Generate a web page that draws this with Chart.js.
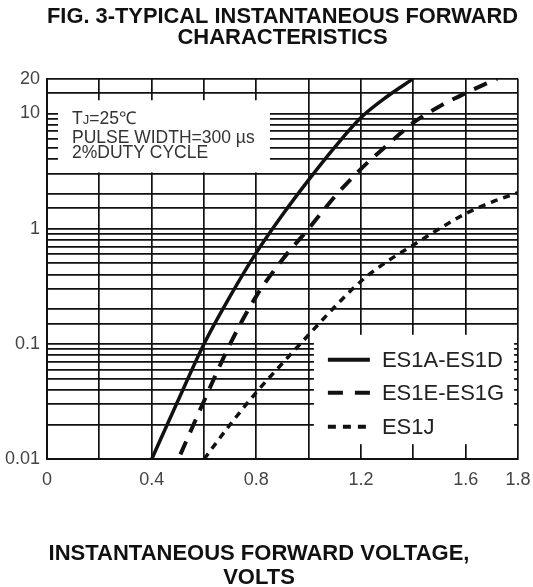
<!DOCTYPE html>
<html>
<head>
<meta charset="utf-8">
<script src="https://cdn.jsdelivr.net/npm/chart.js@4/dist/chart.umd.min.js"></script>
<style>
  body { margin: 0; background: #fff; }
  canvas { display: block; }
</style>
</head>
<body>
<canvas id="chart" width="533" height="587"></canvas>
<script>
// forward voltage (V) vs forward current (A)
let es1aVolts = [0.40, 0.50, 0.60, 0.70, 0.80, 0.90, 1.00, 1.10, 1.20, 1.30, 1.40];
let es1aAmps  = [0.01, 0.032, 0.10, 0.26, 0.62, 1.32, 2.65, 5.1, 9.2, 14, 20];

let es1eVolts = [0.51, 0.60, 0.70, 0.80, 0.90, 1.00, 1.10, 1.20, 1.30, 1.40, 1.50, 1.60, 1.72];
let es1eAmps  = [0.011, 0.032, 0.10, 0.26, 0.54, 1.0, 1.9, 3.3, 5.3, 8.3, 11.5, 15, 20];

let es1jVolts = [0.60, 0.70, 0.80, 0.90, 1.00, 1.10, 1.20, 1.30, 1.40, 1.50, 1.60, 1.70, 1.80];
let es1jAmps  = [0.01, 0.02, 0.038, 0.068, 0.12, 0.21, 0.35, 0.52, 0.72, 1.0, 1.35, 1.7, 2.05];

let seriesNames = ['ES1A-ES1D', 'ES1E-ES1G', 'ES1J'];
let xTickLabels = [0, 0.4, 0.8, 1.2, 1.6, 1.8];
let yTickLabels = [0.01, 0.1, 1, 10, 20];

let noteLines = ['PULSE WIDTH=300 \u00b5s', '2%DUTY CYCLE'];

const FONT = '"Liberation Sans", Arial, sans-serif';

function pts(xs, ys) {
    return xs.map((v, i) => ({ x: v, y: ys[i] }));
}

function near(v, list) {
    return list.some(t => Math.abs(v - t) < 1e-6 * Math.max(1, Math.abs(t)));
}

// white boxes for the conditions note and the legend, drawn over the grid
const boxes = {
    id: 'boxes',
    beforeDatasetsDraw(chart) {
        const { ctx, scales: { x, y } } = chart;
        ctx.save();

        // conditions note, top left
        let l = x.getPixelForValue(0.042), r = x.getPixelForValue(0.852);
        let t = y.getPixelForValue(13), b = y.getPixelForValue(3) - 1.2;
        ctx.fillStyle = '#fff';
        ctx.fillRect(l, t, r - l, b - t);
        ctx.fillStyle = '#333';
        ctx.textBaseline = 'alphabetic';
        ctx.textAlign = 'left';
        let tx = l + 14;
        ctx.font = '17.5px ' + FONT;
        ctx.fillText('T', tx, t + 24);
        let w = ctx.measureText('T').width;
        ctx.font = '13px ' + FONT;
        ctx.fillText('J', tx + w, t + 24);
        let w2 = ctx.measureText('J').width;
        ctx.font = '17.5px ' + FONT;
        ctx.fillText('=25\u2103', tx + w + w2, t + 24);
        ctx.fillText(noteLines[0], tx, t + 43);
        ctx.fillText(noteLines[1], tx, t + 58);

        // legend, bottom right
        l = x.getPixelForValue(1.02); r = x.getPixelForValue(1.785);
        t = y.getPixelForValue(0.12); b = y.getPixelForValue(0.0135);
        ctx.fillStyle = '#fff';
        ctx.fillRect(l, t, r - l, b - t);
        const rows = [25, 58, 92];
        chart.data.datasets.forEach((ds, i) => {
            const yy = t + rows[i];
            ctx.beginPath();
            ctx.setLineDash(ds.legendDash);
            ctx.lineWidth = 4;
            ctx.strokeStyle = ds.borderColor;
            ctx.moveTo(l + 14, yy);
            ctx.lineTo(l + 56, yy);
            ctx.stroke();
            ctx.setLineDash([]);
            ctx.fillStyle = '#222';
            ctx.font = '22px ' + FONT;
            ctx.textBaseline = 'middle';
            ctx.fillText(ds.label, l + 68, yy + 1);
        });
        ctx.restore();
    }
};

let ctx = document.getElementById('chart').getContext('2d');
let myChart = new Chart(ctx, {
    type: 'line',
    data: {
        datasets: [{
            label: seriesNames[0],
            data: pts(es1aVolts, es1aAmps),
            borderColor: '#111',
            borderWidth: 3.5,
            borderDash: [],
            legendDash: [],
        }, {
            label: seriesNames[1],
            data: pts(es1eVolts, es1eAmps),
            borderColor: '#111',
            borderWidth: 4,
            borderDash: [14, 10],
            legendDash: [15, 12],
        }, {
            label: seriesNames[2],
            data: pts(es1jVolts, es1jAmps),
            borderColor: '#111',
            borderWidth: 3.5,
            borderDash: [7, 6],
            legendDash: [8, 7],
        }]
    },
    options: {
        responsive: false,
        animation: false,
        elements: {
            point: { radius: 0 },
            line: { cubicInterpolationMode: 'monotone', fill: false }
        },
        layout: { padding: { left: 0, right: 15, top: 0, bottom: 0 } },
        plugins: {
            legend: { display: false },
            tooltip: { enabled: false },
            title: {
                display: true,
                fullSize: false,
                text: ['FIG. 3-TYPICAL INSTANTANEOUS FORWARD', 'CHARACTERISTICS'],
                color: '#111',
                font: { family: FONT, size: 22, weight: 'bold', lineHeight: 0.93 },
                padding: { top: 6.75, bottom: 31 }
            },
            // axis title sits centred on the whole figure, as in the datasheet
            subtitle: {
                display: true,
                position: 'bottom',
                text: ['INSTANTANEOUS FORWARD VOLTAGE,', 'VOLTS'],
                color: '#111',
                font: { family: FONT, size: 22, weight: 'bold', lineHeight: 1.05 },
                padding: { top: 42, bottom: -2 }
            }
        },
        scales: {
            x: {
                type: 'linear',
                min: 0,
                max: 1.8,
                afterFit: s => { s.paddingRight = 0; s.paddingLeft = 0; },
                ticks: {
                    stepSize: 0.2,
                    autoSkip: false,
                    maxRotation: 0,
                    padding: 10,
                    color: '#444',
                    font: { family: FONT, size: 18 },
                    callback: v => near(v, xTickLabels) ? String(+v.toFixed(1)) : ''
                },
                grid: { color: '#111', lineWidth: 1.7, drawTicks: false },
                border: { color: '#111', width: 2 }
            },
            y: {
                type: 'logarithmic',
                min: 0.01,
                max: 20,
                afterFit: s => { s.width = 47; },
                ticks: {
                    autoSkip: false,
                    padding: 7,
                    color: '#444',
                    font: { family: FONT, size: 18 },
                    callback: v => near(v, yTickLabels) ? String(v) : ''
                },
                grid: { color: '#111', lineWidth: 1.7, drawTicks: false },
                border: { color: '#111', width: 2 }
            }
        }
    },
    plugins: [boxes]
});
</script>
</body>
</html>
